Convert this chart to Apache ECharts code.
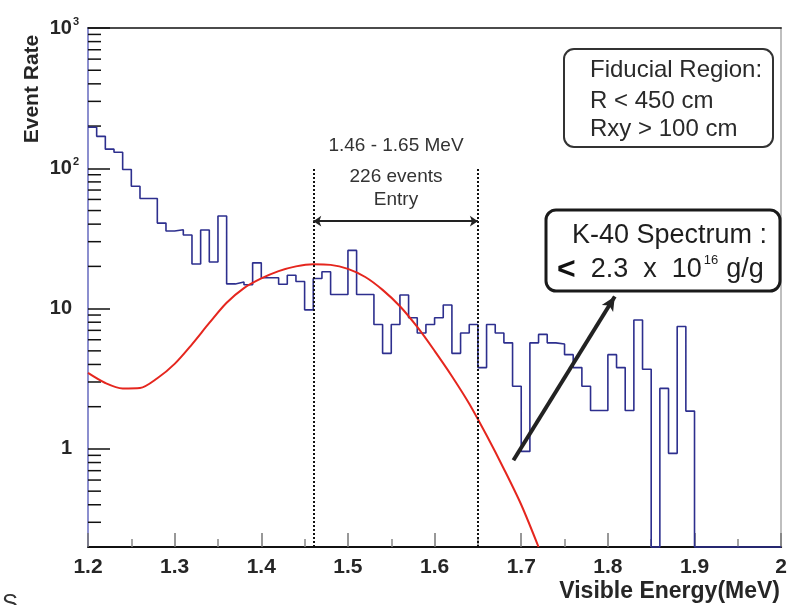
<!DOCTYPE html>
<html>
<head>
<meta charset="utf-8">
<script src="https://cdn.jsdelivr.net/npm/echarts@6/dist/echarts.min.js"></script>
<style>
  html, body { margin: 0; padding: 0; background: #fff; }
  #chart { width: 790px; height: 605px; }
</style>
</head>
<body>
<div id="chart"></div>
<script>
// Visible-energy spectrum, 0.01 MeV bins from 1.20 to 2.00 MeV
const X_MIN = 1.2;
const X_MAX = 2.0;
const BIN_WIDTH = 0.01;
const Y_MIN = 0.2;
const Y_MAX = 1000;

// event rate per bin (0 = empty bin)
const counts = [
  196, 169, 137, 130, 98, 74.5, 61, 61, 40.7, 35.7,
  36.5, 33.5, 20.8, 36.3, 21.5, 45.7, 15.0, 15.5, 14.8, 21.2,
  16.6, 16.6, 14.9, 17.3, 15.6, 9.8, 16.4, 18.3, 12.6, 12.6,
  26, 12.6, 12.6, 7.7, 4.8, 7.7, 12.5, 8.6, 6.7, 7.7,
  8.6, 10.6, 4.8, 6.7, 7.7, 3.8, 7.7, 6.7, 5.7, 2.8,
  0.96, 5.7, 6.55, 5.7, 5.6, 4.7, 3.8, 2.8, 1.88, 1.88,
  4.7, 3.8, 1.88, 8.3, 3.7, 0, 2.7, 0.93, 7.45, 1.86,
  0, 0, 0, 0, 0, 0, 0, 0, 0, 0
];

// K-40 spectrum curve (energy MeV, rate)
const k40Energy = [1.20, 1.22, 1.24, 1.26, 1.28, 1.30, 1.32, 1.34, 1.36, 1.38,
                   1.40, 1.42, 1.44, 1.46, 1.48, 1.50, 1.52, 1.54, 1.56, 1.58,
                   1.60, 1.62, 1.64, 1.66, 1.68, 1.70, 1.72];
const k40Rate   = [3.48, 2.95, 2.70, 2.72, 3.19, 4.04, 5.57, 7.9, 11.0, 14.0,
                   16.4, 18.5, 20.0, 20.7, 20.5, 19.2, 16.8, 13.6, 10.4, 7.4,
                   5.0, 3.3, 2.1, 1.25, 0.72, 0.4, 0.2];

// analysis window and its marker height
const windowRange = [1.46, 1.65];
const windowTop = 100;
const windowArrowLevel = 42;
// pointer from the spectrum to the K-40 limit box
const k40Pointer = [[1.691, 0.83], [1.808, 12.2]];

// y-axis minor tick values (2..9 in each decade)
const yMinorTicks = [];
[-1, 0, 1, 2].forEach(function (d) {
  for (let m = 2; m <= 9; m++) {
    const v = +(m * Math.pow(10, d)).toPrecision(3);
    if (v > Y_MIN && v < Y_MAX) yMinorTicks.push(v);
  }
});

// histogram outline as a stepped line
const binLow = counts.map(function (_, i) { return +(X_MIN + BIN_WIDTH * i).toFixed(2); });
const histData = binLow.map(function (x, i) { return [x, Math.max(counts[i], Y_MIN)]; });
histData.push([X_MAX, Math.max(counts[counts.length - 1], Y_MIN)]);

const curveData = k40Energy.map(function (x, i) { return [x, k40Rate[i]]; });

const FONT = "'Liberation Sans', Arial, sans-serif";
const INK = '#262626';

function yLabel(v) {
  const e = Math.log10(v);
  const r = Math.round(e);
  if (Math.abs(e - r) > 1e-6) return '';
  if (r >= 2) return '{b|10}{s|' + r + '}';
  if (r === 1) return '{q|10}';
  if (r === 0) return '{q|1}';
  return '';
}

const chart = echarts.init(document.getElementById('chart'));
chart.setOption({
  animation: false,
  backgroundColor: '#fff',
  grid: { left: 88, right: 5, top: 28, bottom: 58 },
  xAxis: [{
    type: 'value',
    min: X_MIN, max: X_MAX, interval: 0.1,
    axisLine: { show: true, lineStyle: { color: '#111', width: 2 } },
    axisTick: { show: true, inside: true, length: 14, lineStyle: { color: '#777', width: 1.5 } },
    minorTick: { show: true, splitNumber: 2, length: 8, lineStyle: { color: '#888', width: 1.5 } },
    splitLine: { show: false },
    axisLabel: {
      margin: 10,
      color: INK, fontFamily: FONT, fontWeight: 'bold', fontSize: 21,
      formatter: function (v) { return String(+v.toFixed(2)); }
    }
  }, {
    type: 'value', position: 'top',
    min: X_MIN, max: X_MAX,
    axisLine: { show: true, lineStyle: { color: '#111', width: 1.5 } },
    axisTick: { show: false }, axisLabel: { show: false }, splitLine: { show: false }
  }],
  yAxis: [{
    type: 'log', logBase: 10,
    min: Y_MIN, max: Y_MAX,
    axisLine: { show: true, lineStyle: { color: '#8c8fcf', width: 2 } },
    axisTick: { show: true, inside: true, length: 22, lineStyle: { color: '#111', width: 1.5 } },
    minorTick: { show: false },
    splitLine: { show: false },
    axisLabel: {
      margin: 9,
      color: INK, fontFamily: FONT, fontWeight: 'bold', fontSize: 20,
      formatter: yLabel,
      rich: {
        b: { fontFamily: FONT, fontWeight: 'bold', fontSize: 20, color: INK },
        q: { fontFamily: FONT, fontWeight: 'bold', fontSize: 20, color: INK, padding: [0, 7, 0, 0] },
        s: { fontFamily: FONT, fontWeight: 'bold', fontSize: 11, color: INK, verticalAlign: 'top', padding: [0, 0, 12, 1] }
      }
    }
  }, {
    type: 'value', position: 'right',
    min: 0, max: 1,
    axisLine: { show: true, lineStyle: { color: '#aaa', width: 1.5 } },
    axisTick: { show: false }, axisLabel: { show: false }, splitLine: { show: false }
  }],
  series: [
    {
      name: 'minor ticks',
      type: 'custom',
      silent: true,
      z: 1,
      data: yMinorTicks.map(function (v) { return [X_MIN, v]; }),
      renderItem: function (params, api) {
        const p = api.coord([api.value(0), api.value(1)]);
        return {
          type: 'line',
          shape: { x1: p[0], y1: p[1], x2: p[0] + 13, y2: p[1] },
          style: { stroke: '#111', lineWidth: 1.5 }
        };
      }
    },
    {
      name: 'Data',
      type: 'line',
      step: 'end',
      data: histData,
      showSymbol: false,
      silent: true,
      clip: false,
      z: 3,
      lineStyle: { color: '#2d2f8e', width: 1.6 },
      markLine: {
        silent: true,
        symbol: 'none',
        label: { show: false },
        data: [
          [
            { coord: [windowRange[0], Y_MIN], lineStyle: { color: '#111', width: 2, type: [2, 2] } },
            { coord: [windowRange[0], windowTop] }
          ],
          [
            { coord: [windowRange[1], Y_MIN], lineStyle: { color: '#111', width: 2, type: [2, 2] } },
            { coord: [windowRange[1], windowTop] }
          ],
          [
            { coord: [windowRange[0], windowArrowLevel], symbol: 'arrow', symbolSize: 8,
              lineStyle: { color: '#222', width: 2, type: 'solid' } },
            { coord: [windowRange[1], windowArrowLevel], symbol: 'arrow', symbolSize: 8 }
          ],
          [
            { coord: k40Pointer[0], symbol: 'none',
              lineStyle: { color: '#222', width: 4, type: 'solid' } },
            { coord: k40Pointer[1], symbol: 'arrow', symbolSize: [10, 14] }
          ]
        ]
      }
    },
    {
      name: 'K-40 Spectrum',
      type: 'line',
      smooth: 0.3,
      data: curveData,
      showSymbol: false,
      silent: true,
      z: 4,
      lineStyle: { color: '#e5261e', width: 2 }
    }
  ],
  graphic: [
    {
      type: 'text', x: 32, y: 89, rotation: Math.PI / 2,
      style: { text: 'Event Rate', align: 'center', verticalAlign: 'middle',
               font: 'bold 21px ' + FONT, fill: INK }
    },
    {
      type: 'text', x: 780, y: 592,
      style: { text: 'Visible Energy(MeV)', align: 'right', verticalAlign: 'middle',
               font: 'bold 23px ' + FONT, fill: INK }
    },
    {
      type: 'text', x: 396, y: 146,
      style: { text: '1.46 - 1.65 MeV', align: 'center', verticalAlign: 'middle',
               font: '19px ' + FONT, fill: '#333' }
    },
    {
      type: 'text', x: 396, y: 177,
      style: { text: '226 events', align: 'center', verticalAlign: 'middle',
               font: '19px ' + FONT, fill: '#333' }
    },
    {
      type: 'text', x: 396, y: 200,
      style: { text: 'Entry', align: 'center', verticalAlign: 'middle',
               font: '19px ' + FONT, fill: '#333' }
    },
    {
      type: 'rect', z: 10,
      shape: { x: 564, y: 49, width: 209, height: 98, r: 10 },
      style: { fill: '#fff', stroke: '#333', lineWidth: 2 }
    },
    {
      type: 'text', z: 11, x: 590, y: 70,
      style: { text: 'Fiducial Region:', align: 'left', verticalAlign: 'middle',
               font: '24px ' + FONT, fill: '#2a2a2a' }
    },
    {
      type: 'text', z: 11, x: 590, y: 101,
      style: { text: 'R < 450 cm', align: 'left', verticalAlign: 'middle',
               font: '24px ' + FONT, fill: '#2a2a2a' }
    },
    {
      type: 'text', z: 11, x: 590, y: 129,
      style: { text: 'Rxy > 100 cm', align: 'left', verticalAlign: 'middle',
               font: '24px ' + FONT, fill: '#2a2a2a' }
    },
    {
      type: 'rect', z: 10,
      shape: { x: 546, y: 210, width: 234, height: 81, r: 10 },
      style: { fill: '#fff', stroke: '#1a1a1a', lineWidth: 3 }
    },
    {
      type: 'text', z: 11, x: 572, y: 236,
      style: { text: 'K-40 Spectrum :', align: 'left', verticalAlign: 'middle',
               font: '27px ' + FONT, fill: '#1e1e1e' }
    },
    {
      type: 'text', z: 11, x: 557, y: 270,
      style: {
        text: '{lt|<}{n|  2.3  x  10}{s|16}{n|g/g}',
        align: 'left', verticalAlign: 'middle',
        rich: {
          lt: { font: 'bold 32px ' + FONT, fill: '#111' },
          n: { font: '27px ' + FONT, fill: '#1e1e1e' },
          s: { font: '13px ' + FONT, fill: '#1e1e1e', verticalAlign: 'top', padding: [0, 8, 16, 2] }
        }
      }
    },
    {
      type: 'text', x: 2, y: 592,
      style: { text: 'S', align: 'left', verticalAlign: 'top',
               font: '24px ' + FONT, fill: '#333' }
    }
  ]
});
</script>
</body>
</html>
